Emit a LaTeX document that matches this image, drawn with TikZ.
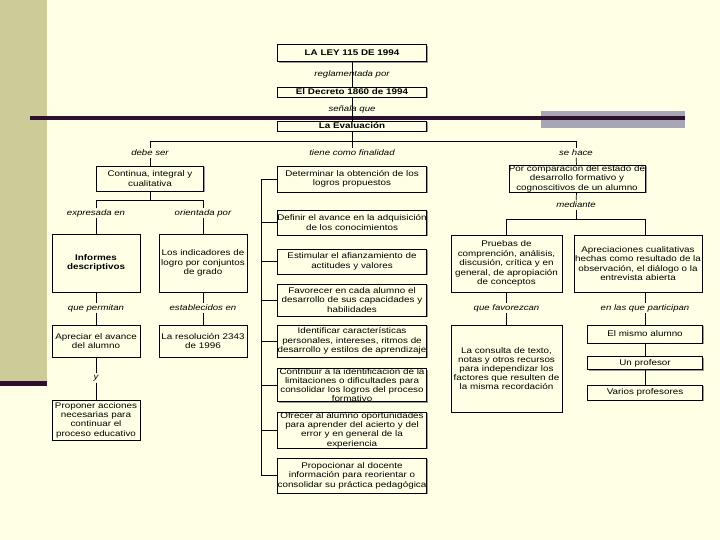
\documentclass[tikz,border=0pt]{standalone}
\usepackage{fontspec}
\setmainfont[FakeStretch=1.2]{Liberation Sans}
\usetikzlibrary{shadows}
\definecolor{crema}{RGB}{255,255,229}
\definecolor{oliva}{RGB}{204,204,153}
\definecolor{morado}{RGB}{46,16,46}
\definecolor{grisazul}{RGB}{166,166,181}

\begin{document}
\begin{tikzpicture}[x=1pt,y=-1pt,
  caja/.style={draw=black, line width=0.6pt, fill=crema, inner sep=0pt, align=center,
    font=\fontsize{8.2}{9.4}\selectfont,
    drop shadow={shadow xshift=1.4pt,shadow yshift=-1.4pt,fill=black!40,opacity=1}},
  titulo/.style={caja, font=\fontsize{8.2}{9}\selectfont\bfseries},
  etiq/.style={font=\fontsize{8}{9}\selectfont\itshape, inner sep=1.5pt},
  linea/.style={line width=0.7pt}]

  % Fondo de la diapositiva
  \useasboundingbox (0,0) rectangle (720,540);
  \fill[crema] (0,0) rectangle (720,540);
  \fill[oliva] (0,0) rectangle (47,383);
  \fill[morado] (0,381) rectangle (47,386);
  \fill[grisazul] (541,111) rectangle (685,128);
  \fill[morado] (30,116) rectangle (685,120);

  % Cabecera
  \node[titulo, minimum width=149, minimum height=17] (ley) at (352,53) {LA LEY 115 DE 1994};
  \node[titulo, minimum width=149, minimum height=10] (decreto) at (352,92) {El Decreto 1860 de 1994};
  \node[titulo, minimum width=149, minimum height=10] (eval) at (352,126) {La Evaluación};
  \draw[linea] (ley) -- (decreto) node[etiq, midway] {reglamentada por};
  \draw[linea] (decreto) -- (eval) node[etiq, midway] {señala que};

  % Ramas principales
  \coordinate (ramal) at (352,141);
  \node[etiq] (debe) at (150,153) {debe ser};
  \node[etiq] (finalidad) at (352,153) {tiene como finalidad};
  \node[etiq] (sehace) at (576,153) {se hace};
  \draw[linea] (eval) -- (ramal);
  \draw[linea] (ramal) -| (debe);
  \draw[linea] (ramal) -| (sehace);
  \draw[linea] (ramal) -- (finalidad);

  % Columna izquierda
  \node[caja, minimum width=107, minimum height=25] (continua) at (150,178.5) {Continua, integral y\\ cualitativa};
  \node[etiq] (expresada) at (96,213) {expresada en};
  \node[etiq] (orientada) at (203,213) {orientada por};
  \node[caja, minimum width=88, minimum height=58, font=\fontsize{8.2}{9.4}\selectfont\bfseries] (informes) at (96,263) {Informes\\ descriptivos};
  \node[caja, minimum width=88, minimum height=58] (indicadores) at (203,263) {Los indicadores de\\ logro por conjuntos\\ de grado};
  \node[etiq] (permitan) at (96,308) {que permitan};
  \node[etiq] (establecidos) at (203,308) {establecidos en};
  \node[caja, minimum width=88, minimum height=32] (apreciar) at (96,341) {Apreciar el avance\\ del alumno};
  \node[caja, minimum width=88, minimum height=32] (resolucion) at (203,341) {La resolución 2343\\ de 1996};
  \node[etiq] (y) at (96,378) {y};
  \node[caja, minimum width=88, minimum height=40] (proponer) at (96,420) {Proponer acciones\\ necesarias para\\ continuar el\\ proceso educativo};

  \coordinate (ramalA) at (150,200);
  \draw[linea] (debe) -- (continua);
  \draw[linea] (continua) -- (ramalA);
  \draw[linea] (ramalA) -| (expresada);
  \draw[linea] (ramalA) -| (orientada);
  \draw[linea] (expresada) -- (informes);
  \draw[linea] (orientada) -- (indicadores);
  \draw[linea] (informes) -- (permitan);
  \draw[linea] (permitan) -- (apreciar);
  \draw[linea] (indicadores) -- (establecidos);
  \draw[linea] (establecidos) -- (resolucion);
  \draw[linea] (apreciar) -- (y);
  \draw[linea] (y) -- (proponer);

  % Columna central: finalidades
  \node[caja, minimum width=149, minimum height=26] (determinar) at (352,179) {Determinar la obtención de los\\ logros propuestos};
  \node[caja, minimum width=149, minimum height=25] (definir) at (352,222.5) {Definir el avance en la adquisición\\ de los conocimientos};
  \node[caja, minimum width=149, minimum height=25] (estimular) at (352,261.5) {Estimular el afianzamiento de\\ actitudes y valores};
  \node[caja, minimum width=149, minimum height=32] (favorecer) at (352,300) {Favorecer en cada alumno el\\ desarrollo de sus capacidades y\\ habilidades};
  \node[caja, minimum width=149, minimum height=32] (identificar) at (352,341) {Identificar características\\ personales, intereses, ritmos de\\ desarrollo y estilos de aprendizaje};
  \node[caja, minimum width=149, minimum height=32, font=\fontsize{8.2}{8.8}\selectfont] (contribuir) at (352,385) {Contribuir a la identificación de la\\ limitaciones o dificultades para\\ consolidar los logros del proceso\\ formativo};
  \node[caja, minimum width=149, minimum height=36] (ofrecer) at (352,430) {Ofrecer al alumno oportunidades\\ para aprender del acierto y del\\ error y en general de la\\ experiencia};
  \node[caja, minimum width=149, minimum height=35] (proporcionar) at (352,475.5) {Propocionar al docente\\ información para reorientar o\\ consolidar su práctica pedagógica};

  \coordinate (lomo) at (261,0);
  \draw[linea] (determinar.west) -- (lomo |- determinar.west) -- (lomo |- proporcionar.west) -- (proporcionar.west);
  \foreach \n in {definir,estimular,favorecer,identificar,contribuir,ofrecer}
    \draw[linea] (lomo |- \n.west) -- (\n.west);

  % Columna derecha
  \node[caja, minimum width=136, minimum height=27] (comparacion) at (577,178.5) {Por comparación del estado de\\ desarrollo formativo y\\ cognoscitivos de un alumno};
  \node[etiq] (mediante) at (576,205) {mediante};
  \node[caja, minimum width=111, minimum height=57] (pruebas) at (506.5,263.5) {Pruebas de\\ comprención, análisis,\\ discusión, crítica y en\\ general, de apropiación\\ de conceptos};
  \node[caja, minimum width=128, minimum height=57] (apreciaciones) at (638,263.5) {Apreciaciones cualitativas\\ hechas como resultado de la\\ observación, el diálogo o la\\ entrevista abierta};
  \node[etiq] (favorezcan) at (506.5,308) {que favorezcan};
  \node[etiq] (participan) at (645,308) {en las que participan};
  \node[caja, minimum width=111, minimum height=87, font=\fontsize{8.2}{8.8}\selectfont] (consulta) at (506.5,368.5) {La consulta de texto,\\ notas y otros recursos\\ para independizar los\\ factores que resulten de\\ la misma recordación};
  \node[caja, minimum width=115, minimum height=18] (mismo) at (645,334) {El mismo alumno};
  \node[caja, minimum width=115, minimum height=13] (profesor) at (645,363) {Un profesor};
  \node[caja, minimum width=115, minimum height=15] (varios) at (645,392.5) {Varios profesores};

  \coordinate (ramalB) at (576,219);
  \coordinate (colder) at (645,219);
  \draw[linea] (sehace) -- (comparacion);
  \draw[linea] (comparacion) -- (mediante);
  \draw[linea] (mediante) -- (ramalB);
  \draw[linea] (ramalB) -| (pruebas);
  \draw[linea] (ramalB) -- (colder) -- (colder |- apreciaciones.north);
  \draw[linea] (pruebas) -- (favorezcan);
  \draw[linea] (favorezcan) -- (consulta);
  \draw[linea] (colder |- apreciaciones.south) -- (participan);
  \draw[linea] (participan) -- (mismo);
  \draw[linea] (mismo) -- (profesor);
  \draw[linea] (profesor) -- (varios);

\end{tikzpicture}
\end{document}
